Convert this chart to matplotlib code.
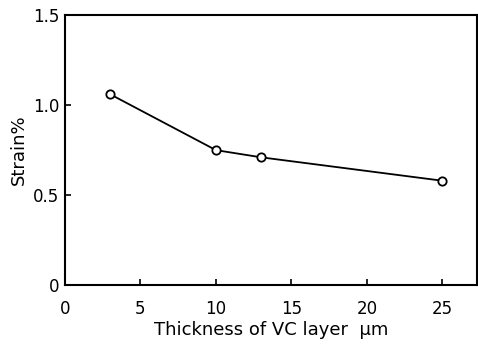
import matplotlib
matplotlib.use('Agg')
import matplotlib.pyplot as plt

# data
thickness = [3, 10, 13, 25]
strain = [1.06, 0.75, 0.71, 0.58]

x_ticks = [0, 5, 10, 15, 20, 25]
y_ticks = [0, 0.5, 1.0, 1.5]
y_tick_labels = ['0', '0.5', '1.0', '1.5']

fig = plt.figure(figsize=(4.78, 3.52), dpi=100)
ax = fig.add_axes([0.136, 0.19, 0.862, 0.767])

ax.plot(thickness, strain, color='black', linewidth=1.3,
        marker='o', markersize=6, markerfacecolor='white',
        markeredgecolor='black', markeredgewidth=1.3)

ax.set_xlim(0, 27.3)
ax.set_ylim(0, 1.5)
ax.set_xticks(x_ticks)
ax.set_yticks(y_ticks)
ax.set_yticklabels(y_tick_labels)
ax.tick_params(direction='in', length=4, width=1.2, labelsize=12)
ax.tick_params(axis='x', pad=11)
ax.tick_params(axis='y', pad=4)

for spine in ax.spines.values():
    spine.set_linewidth(1.5)

ax.set_xlabel('Thickness of VC layer  μm', fontsize=13, labelpad=2)
ax.set_ylabel('Strain%', fontsize=13, labelpad=4)

fig.savefig('out.png', dpi=100)
